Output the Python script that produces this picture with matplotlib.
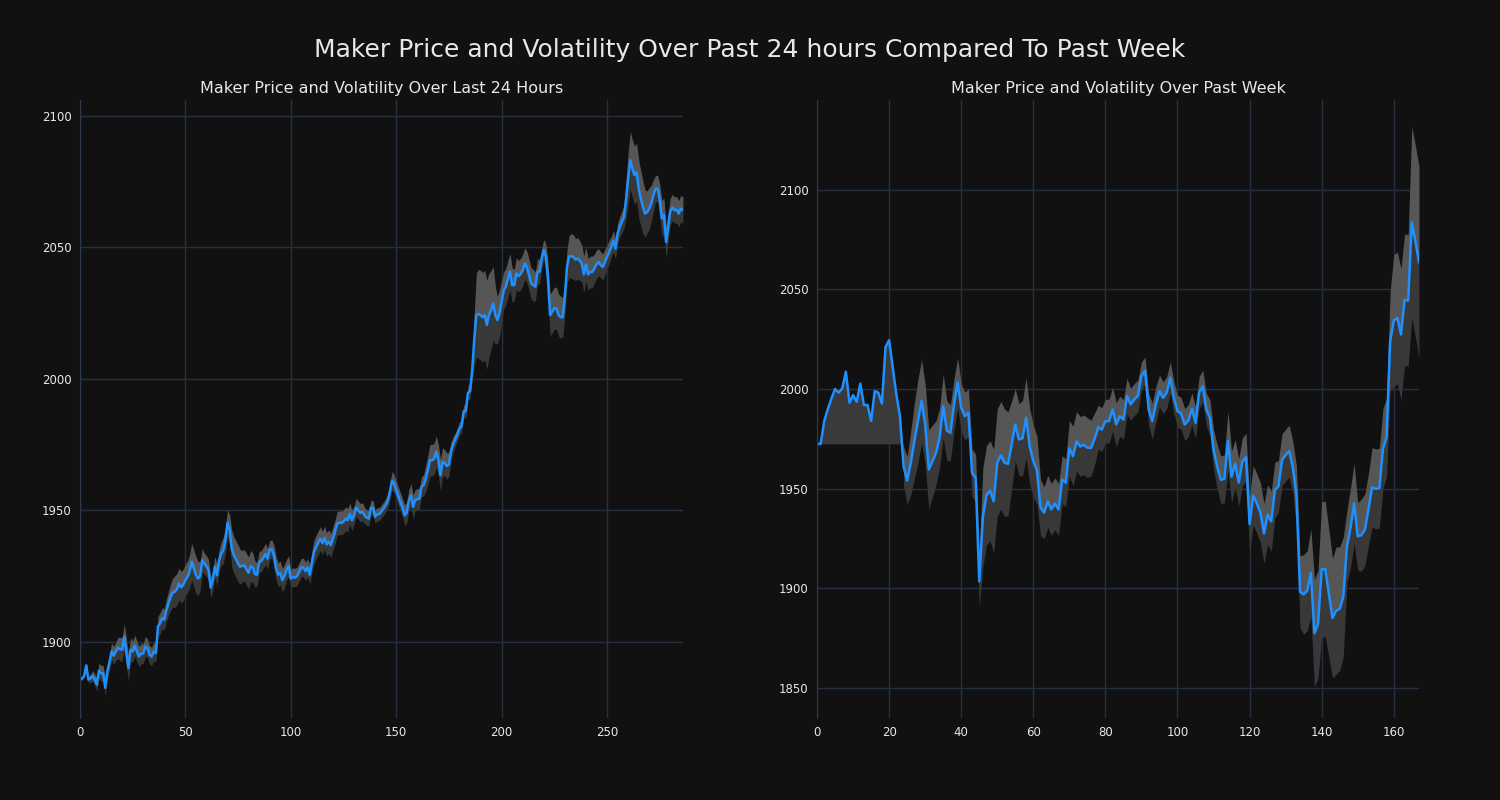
import numpy as np
import matplotlib.pyplot as plt

# price over last 24 hours (5 min steps)
day_price = [
    1885.6, 1886.0, 1887.0, 1891.0, 1885.6, 1886.0, 1887.0, 1885.6, 1883.7, 1889.0,
    1888.0, 1888.0, 1882.5, 1888.8, 1892.0, 1896.3, 1894.7, 1896.3, 1897.6, 1897.2,
    1897.0, 1901.8, 1896.0, 1890.0, 1897.0, 1896.3, 1898.5, 1896.3, 1894.4, 1895.5,
    1895.5, 1898.2, 1897.6, 1895.0, 1894.4, 1896.3, 1895.7, 1905.8, 1907.0, 1909.0,
    1908.4, 1912.0, 1914.6, 1917.0, 1918.7, 1919.0, 1920.0, 1922.0, 1920.7, 1921.6,
    1923.5, 1924.7, 1926.6, 1930.4, 1928.0, 1925.4, 1924.0, 1925.0, 1931.0, 1929.7,
    1928.7, 1927.2, 1920.6, 1923.4, 1928.5, 1925.3, 1931.0, 1933.5, 1934.8, 1938.6,
    1945.2, 1942.4, 1935.4, 1932.9, 1931.4, 1929.7, 1928.5, 1928.8, 1929.0, 1927.5,
    1926.2, 1928.7, 1928.2, 1925.7, 1925.5, 1930.4, 1930.6, 1932.0, 1933.3, 1931.6,
    1935.0, 1935.2, 1932.9, 1927.8, 1925.5, 1926.2, 1923.4, 1925.0, 1927.4, 1928.7,
    1924.0, 1924.6, 1924.4, 1924.9, 1926.6, 1928.2, 1928.2, 1926.8, 1928.2, 1925.5,
    1930.1, 1934.2, 1936.0, 1937.6, 1939.2, 1937.5, 1939.5, 1937.0, 1938.0, 1936.7,
    1939.2, 1941.8, 1945.0, 1945.2, 1945.2, 1945.6, 1946.8, 1946.2, 1948.7, 1946.2,
    1948.0, 1951.0, 1950.0, 1949.0, 1949.4, 1948.0, 1947.2, 1946.8, 1951.0, 1950.9,
    1947.5, 1948.5, 1948.5, 1949.6, 1950.6, 1951.9, 1953.5, 1957.0, 1961.2, 1960.1,
    1957.6, 1955.3, 1953.2, 1951.0, 1948.1, 1949.0, 1953.8, 1955.7, 1951.3, 1953.8,
    1954.2, 1954.4, 1958.9, 1959.5, 1962.0, 1965.2, 1969.0, 1969.0, 1969.6, 1972.2,
    1969.0, 1963.3, 1968.4, 1968.0, 1966.8, 1967.4, 1972.5, 1975.0, 1976.9, 1978.8,
    1981.0, 1982.0, 1987.6, 1987.6, 1994.6, 1995.2, 2002.8, 2014.8, 2024.2, 2024.6,
    2024.2, 2023.4, 2024.2, 2020.5, 2024.2, 2026.1, 2028.7, 2024.2, 2022.3, 2024.9,
    2029.3, 2033.7, 2035.0, 2038.1, 2040.7, 2035.6, 2035.6, 2040.0, 2039.0, 2039.8,
    2041.3, 2043.8, 2042.5, 2039.4, 2036.2, 2035.6, 2035.0, 2040.7, 2040.7, 2045.7,
    2048.9, 2046.3, 2037.5, 2024.2, 2025.5, 2026.8, 2026.8, 2024.2, 2023.4, 2023.4,
    2031.2, 2042.5, 2046.5, 2046.6, 2046.3, 2045.3, 2045.7, 2045.0, 2043.8, 2039.7,
    2043.5, 2039.7, 2040.6, 2040.6, 2041.9, 2043.5, 2044.4, 2043.2, 2042.5, 2044.4,
    2046.3, 2048.2, 2050.1, 2052.4, 2049.5, 2055.2, 2057.7, 2059.6, 2061.5, 2067.9,
    2076.1, 2083.1, 2079.9, 2077.4, 2078.6, 2072.3, 2068.5, 2065.3, 2062.8, 2063.4,
    2064.7, 2066.6, 2069.8, 2072.3, 2072.3, 2067.9, 2060.9, 2062.2, 2052.0, 2057.7,
    2063.8, 2065.1, 2064.1, 2064.3, 2062.8, 2064.7, 2064.1,
]

# rolling volatility (half width of the band)
day_vol = [
    0.5, 0.5, 0.5, 0.8, 1.2, 1.6, 2.0, 2.2, 2.5, 2.8,
    3.0, 3.0, 3.2, 3.0, 3.0, 3.2, 3.5, 3.5, 4.0, 4.5,
    4.5, 5.0, 5.5, 5.0, 4.5, 4.0, 4.0, 4.0, 3.8, 3.8,
    3.8, 3.8, 3.5, 3.5, 3.5, 3.5, 3.5, 3.8, 4.0, 4.0,
    4.0, 4.2, 4.5, 5.0, 5.5, 6.0, 6.0, 6.0, 6.0, 6.0,
    6.0, 6.0, 6.5, 7.0, 7.0, 7.0, 6.5, 5.5, 4.5, 4.0,
    4.0, 4.0, 4.0, 4.0, 4.0, 4.0, 4.0, 4.5, 5.0, 5.0,
    5.0, 6.0, 7.0, 7.0, 7.0, 7.0, 6.5, 6.0, 6.0, 6.0,
    6.0, 6.0, 5.5, 5.0, 4.5, 4.0, 4.0, 4.0, 4.0, 4.0,
    3.5, 3.5, 4.0, 4.5, 4.5, 4.5, 4.5, 4.5, 4.0, 4.0,
    3.5, 3.5, 3.5, 3.5, 3.5, 3.5, 3.5, 3.5, 3.5, 3.5,
    4.0, 4.5, 4.5, 4.5, 4.5, 4.5, 4.5, 4.5, 4.5, 4.5,
    4.5, 4.5, 4.5, 4.5, 4.5, 4.5, 4.5, 4.5, 4.0, 4.0,
    3.5, 3.5, 3.5, 3.5, 3.5, 3.0, 3.0, 3.0, 2.8, 2.8,
    2.5, 2.5, 2.5, 2.5, 2.5, 2.5, 2.8, 3.0, 3.5, 3.5,
    3.5, 3.5, 3.5, 3.5, 4.0, 4.0, 4.0, 4.5, 4.5, 4.0,
    4.0, 4.0, 4.0, 4.0, 5.0, 5.5, 6.0, 6.0, 6.0, 6.0,
    6.0, 6.0, 5.5, 5.0, 5.0, 4.5, 3.5, 3.0, 2.5, 2.5,
    2.5, 2.5, 2.5, 2.5, 2.5, 3.0, 4.0, 10.0, 16.0, 17.0,
    17.0, 17.0, 17.0, 17.0, 16.0, 15.0, 14.0, 11.0, 9.0, 9.0,
    8.0, 7.0, 7.0, 7.0, 7.0, 6.5, 6.0, 6.0, 6.0, 6.0,
    6.0, 6.0, 6.0, 6.0, 6.0, 6.0, 5.5, 5.0, 4.5, 4.0,
    4.0, 5.0, 7.0, 8.0, 8.0, 8.0, 8.0, 8.0, 8.0, 7.5,
    7.0, 6.5, 8.0, 8.5, 8.5, 8.0, 8.0, 7.5, 7.0, 7.0,
    6.5, 6.0, 6.0, 6.0, 5.5, 5.5, 5.0, 5.0, 5.0, 5.0,
    4.5, 4.5, 4.0, 4.0, 4.0, 4.0, 4.0, 4.0, 4.5, 7.0,
    10.0, 11.0, 11.0, 11.0, 11.0, 11.0, 10.5, 10.0, 9.0, 8.0,
    8.0, 7.0, 6.0, 5.0, 5.0, 6.0, 7.0, 6.5, 6.0, 5.5,
    5.0, 5.0, 5.0, 5.0, 5.0, 5.0, 5.0,
]

# hourly price over past week
week_price = [
    1972.5, 1972.5, 1984.0, 1990.0, 1995.3, 2000.0, 1998.2, 2000.3, 2008.7, 1993.1,
    1997.0, 1993.6, 2002.7, 1992.0, 1992.0, 1984.0, 1999.0, 1998.2, 1992.8, 2021.1,
    2024.5, 2010.7, 1997.3, 1986.4, 1961.3, 1954.1, 1963.0, 1973.9, 1983.9, 1994.0,
    1982.2, 1959.6, 1963.8, 1968.0, 1975.5, 1991.5, 1979.2, 1978.0, 1992.3, 2003.2,
    1990.6, 1986.4, 1988.1, 1958.0, 1955.4, 1903.5, 1935.7, 1946.7, 1949.0, 1943.7,
    1963.0, 1966.8, 1963.0, 1962.5, 1972.2, 1982.2, 1974.7, 1975.3, 1985.6, 1971.2,
    1963.9, 1959.3, 1940.5, 1938.0, 1943.7, 1939.6, 1942.5, 1939.6, 1954.5, 1953.0,
    1970.2, 1966.3, 1973.8, 1971.2, 1972.0, 1970.6, 1970.4, 1975.0, 1980.8, 1979.7,
    1983.9, 1983.9, 1989.8, 1982.2, 1986.4, 1984.7, 1996.5, 1992.3, 1994.8, 1996.5,
    2006.5, 2009.1, 1989.8, 1983.9, 1992.3, 1999.0, 1995.6, 1998.2, 2005.7, 1995.6,
    1988.9, 1987.8, 1982.2, 1984.2, 1990.1, 1983.1, 1998.2, 2001.5, 1989.8, 1985.6,
    1969.6, 1961.2, 1954.5, 1955.0, 1973.9, 1956.0, 1962.6, 1953.1, 1963.5, 1965.8,
    1932.3, 1946.5, 1942.7, 1938.0, 1927.6, 1937.0, 1933.6, 1949.3, 1951.2, 1964.5,
    1966.9, 1968.8, 1960.7, 1946.5, 1898.3, 1897.0, 1898.9, 1907.8, 1877.5, 1882.2,
    1909.6, 1909.6, 1897.4, 1885.1, 1888.8, 1889.8, 1895.8, 1921.0, 1930.4, 1942.7,
    1926.1, 1926.7, 1929.5, 1939.9, 1950.7, 1949.9, 1950.3, 1970.1, 1975.8, 2024.0,
    2034.4, 2035.7, 2027.4, 2044.8, 2044.4, 2083.6, 2074.1, 2063.7,
]

nan = np.nan
week_vol = [
    nan, nan, nan, nan, nan, nan, nan, nan, nan, nan,
    nan, nan, nan, nan, nan, nan, nan, nan, nan, nan,
    nan, nan, nan, nan, 10, 12, 16, 19, 21, 21,
    20, 20, 18, 16, 15, 16, 15, 14, 13, 12.5,
    12, 12, 12, 12, 12, 13, 25, 25, 25, 26,
    27, 27, 27, 26, 22, 18, 18, 19, 20, 19,
    18, 17, 14, 13, 13, 13, 13, 13, 12, 12,
    14, 15, 15, 15, 15, 15, 14, 13, 11, 11,
    11, 11, 11, 11, 10, 10, 9, 8, 8, 8,
    7, 7, 8, 9, 9, 8, 8, 8, 8, 8,
    8, 8, 8, 8, 8, 8, 8, 8, 8, 9,
    10, 11, 12, 12, 15, 13, 12, 12, 12, 12,
    14, 15, 15, 15, 15, 15, 15, 14, 13, 13,
    13, 13, 13, 15, 18, 20, 20, 22, 27, 27,
    34, 34, 32, 30, 32, 31, 30, 18, 20, 20,
    17, 18, 18, 18, 20, 20, 20, 20, 20, 25,
    33, 33, 33, 33, 33, 48, 48, 48,
]

bg = "#111111"
grid_c = "#263140"
line_c = "#1e90ff"
upper_c = "#565656"
lower_c = "#383838"
text_c = "#e8e8e8"

fig = plt.figure(figsize=(15, 8), dpi=100, facecolor=bg)
ax1 = fig.add_axes([0.0533, 0.1025, 0.402, 0.7725])
ax2 = fig.add_axes([0.5447, 0.1025, 0.4013, 0.7725])


def draw(ax, price, vol, title, ylim):
    price = np.array(price)
    vol = np.array(vol, dtype=float)
    x = np.arange(len(price))
    ax.set_facecolor(bg)
    ax.fill_between(x, price, price + vol, color=upper_c, lw=0)
    ax.fill_between(x, price - vol, price, color=lower_c, lw=0)
    # before the rolling window fills up the band is drawn from the first price
    warm = np.isnan(vol)
    if warm.any():
        n = np.argmin(warm) + 1
        ax.fill_between(x[:n], price[0], price[:n], color="#3a3a3a", lw=0)
    ax.plot(x, price, color=line_c, lw=1.8)
    ax.set_xlim(0, len(price) - 1)
    ax.set_ylim(*ylim)
    ax.grid(True, color=grid_c, lw=1)
    ax.set_axisbelow(True)
    for side in ["top", "right", "bottom"]:
        ax.spines[side].set_visible(False)
    ax.spines["left"].set_color("#2e3a4a")
    ax.tick_params(colors=text_c, labelsize=8.5, length=0, pad=6)
    ax.set_title(title, color=text_c, fontsize=11.5, pad=5)


draw(ax1, day_price, day_vol, "Maker Price and Volatility Over Last 24 Hours", (1871, 2106))
draw(ax2, week_price, week_vol, "Maker Price and Volatility Over Past Week", (1835, 2145))
ax1.set_yticks([1900, 1950, 2000, 2050, 2100])
ax2.set_yticks([1850, 1900, 1950, 2000, 2050, 2100])

fig.suptitle("Maker Price and Volatility Over Past 24 hours Compared To Past Week",
             color=text_c, fontsize=18, y=0.9375, va="center")

fig.savefig("out.png", dpi=100, facecolor=bg)
